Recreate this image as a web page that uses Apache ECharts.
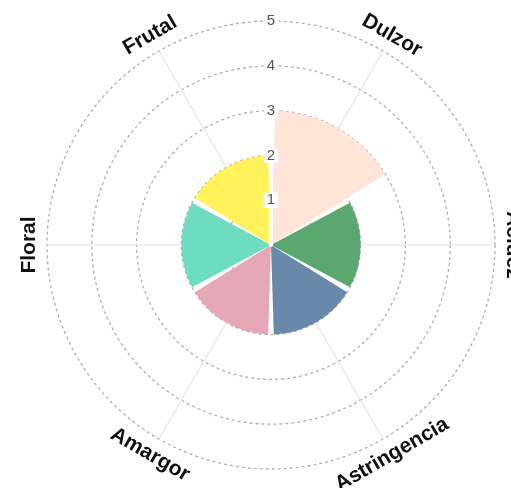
<!DOCTYPE html>
<html>
<head>
<meta charset="utf-8">
<script src="https://cdn.jsdelivr.net/npm/echarts@6/dist/echarts.min.js"></script>
<style>
  html, body { margin: 0; padding: 0; background: #fff; }
  #chart { width: 511px; height: 488px; }
</style>
</head>
<body>
<div id="chart"></div>
<script>
const categories = ['Dulzor', 'Acidez', 'Astringencia', 'Amargor', 'Floral', 'Frutal'];
const values = [3, 2, 2, 2, 2, 2];
const colors = ['#ffe4d8', '#5aa86f', '#6889aa', '#e6a8b6', '#6edcc0', '#fff25a'];
const radiusTicks = ['', '1', '2', '3', '4', '5'];
const labelRadius = 5.4;

const chart = echarts.init(document.getElementById('chart'));

chart.setOption({
  backgroundColor: '#fff',
  animation: false,
  polar: [
    { center: [271, 245], radius: 224 },
    { center: [271, 245], radius: 224 }
  ],
  angleAxis: [
    {
      polarIndex: 0,
      type: 'category',
      data: categories,
      startAngle: 90,
      clockwise: true,
      boundaryGap: true,
      axisLine: { show: false },
      axisTick: { show: false },
      axisLabel: { show: false },
      splitLine: { show: false }
    },
    {
      polarIndex: 1,
      type: 'value',
      min: 0,
      max: 360,
      startAngle: 90,
      show: false
    }
  ],
  radiusAxis: [
    {
      polarIndex: 0,
      min: 0,
      max: 5,
      interval: 1,
      axisLine: { show: false },
      axisTick: { show: false },
      axisLabel: { show: false },
      splitLine: { lineStyle: { color: '#aeaeae', type: [3, 3], width: 1.3 } }
    },
    {
      // second radius axis only for the tick labels, drawn above the bars
      polarIndex: 1,
      min: 0,
      max: 5,
      interval: 1,
      z: 10,
      axisLine: { show: true, lineStyle: { color: '#fff', width: 4 } },
      axisTick: { show: false },
      splitLine: { show: false },
      axisLabel: {
        margin: 0,
        align: 'center',
        verticalAlign: 'middle',
        color: '#555',
        fontSize: 15,
        fontFamily: '"Liberation Sans", Arial, sans-serif',
        backgroundColor: '#fff',
        padding: [0, 3],
        formatter: v => radiusTicks[v]
      }
    }
  ],
  series: [
    {
      type: 'custom',
      coordinateSystem: 'polar',
      polarIndex: 0,
      z: 1,
      silent: true,
      data: categories.map((c, i) => [labelRadius, i]),
      renderItem: function (params, api) {
        const i = api.value(1);
        const cs = params.coordSys;
        const outer = api.coord([5, i]);
        const pos = api.coord([labelRadius, i]);
        const dx = pos[0] - cs.cx, dy = pos[1] - cs.cy;
        const theta = Math.atan2(dx, -dy) * 180 / Math.PI;
        let rot = theta;
        if (theta > 90.5) rot = theta - 180;
        else if (theta < -90.5) rot = theta + 180;
        return {
          type: 'group',
          children: [
            {
              type: 'line',
              shape: { x1: cs.cx, y1: cs.cy, x2: outer[0], y2: outer[1] },
              style: { stroke: '#e4e4e4', lineWidth: 1.2 }
            },
            {
              type: 'text',
              x: pos[0],
              y: pos[1],
              rotation: -rot * Math.PI / 180,
              style: {
                text: categories[i],
                fill: '#111',
                font: 'bold 21px "Liberation Sans", Arial, sans-serif',
                align: 'center',
                verticalAlign: 'middle'
              }
            }
          ]
        };
      }
    },
    {
      type: 'bar',
      coordinateSystem: 'polar',
      polarIndex: 0,
      z: 2,
      barCategoryGap: '6%',
      data: values.map((v, i) => ({ value: v, itemStyle: { color: colors[i] } }))
    }
  ]
});
</script>
</body>
</html>
